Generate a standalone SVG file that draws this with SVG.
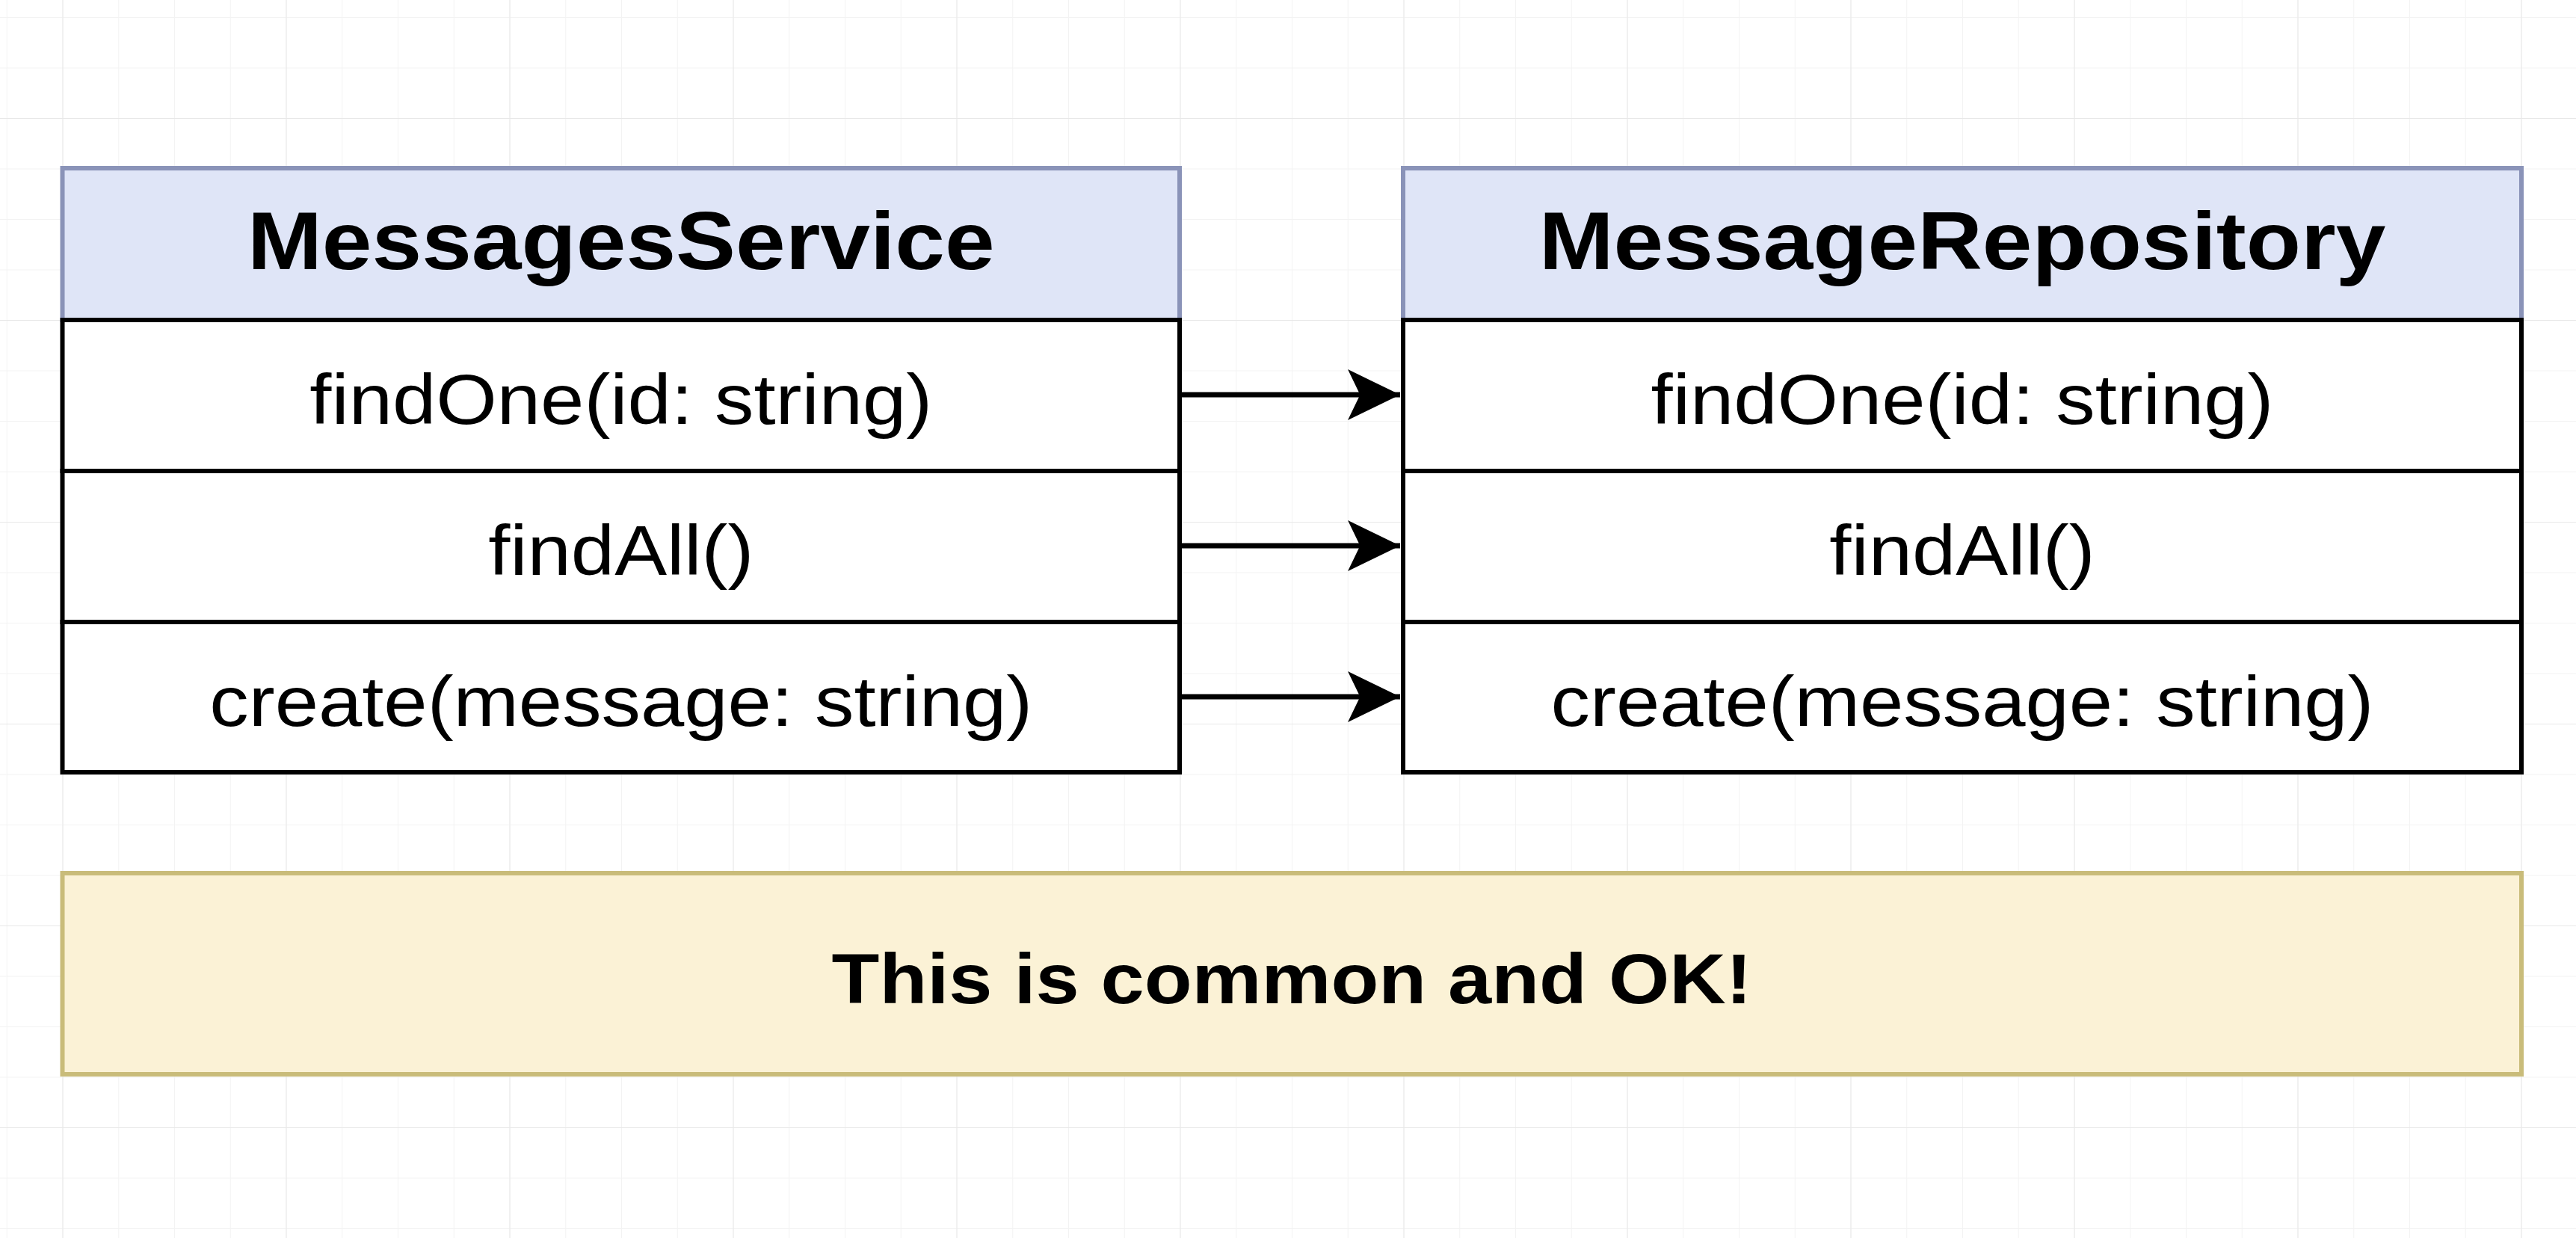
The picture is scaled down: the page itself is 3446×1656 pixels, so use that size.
<svg xmlns="http://www.w3.org/2000/svg" width="3446" height="1656" viewBox="0 0 3446 1656">
<style>
.hdr{fill:#dfe5f7;stroke:#8a93b8;stroke-width:6}
.row{fill:#ffffff;stroke:#000000;stroke-width:6}
.note{fill:#fbf2d6;stroke:#c9bc7a;stroke-width:6}
.t{font-family:"Liberation Sans",Arial,sans-serif;fill:#000;text-anchor:middle}
.b{font-weight:bold}
.h{font-size:109px}
.m{font-size:94px}
.n{font-size:95px}
.conn{stroke:#000;stroke-width:7;fill:none}
</style>
<defs>
<pattern id="gmin" patternUnits="userSpaceOnUse" x="83.5" y="23" width="74.75" height="67.5">
<rect x="-1" y="0" width="2" height="67.5" fill="#f3f3f3"/>
<rect x="0" y="-1" width="74.75" height="2" fill="#f3f3f3"/>
</pattern>
<pattern id="gmaj" patternUnits="userSpaceOnUse" x="83.5" y="158" width="299" height="270">
<rect x="-1" y="0" width="2" height="270" fill="#e8e8e8"/>
<rect x="0" y="-1" width="299" height="2" fill="#e8e8e8"/>
</pattern>
<marker id="arr" markerUnits="userSpaceOnUse" markerWidth="70" markerHeight="70" viewBox="0 0 64 62" refX="64" refY="31" orient="auto">
<path d="M0 0 L64 31 L0 62 L15 31 Z" fill="#000"/>
</marker>
</defs>
<rect width="3446" height="1656" fill="#ffffff"/>
<rect width="3446" height="1656" fill="url(#gmin)"/>
<rect width="3446" height="1656" fill="url(#gmaj)"/>

<g id="connectors">
<path class="conn" d="M1578 528 H1873" marker-end="url(#arr)"/>
<path class="conn" d="M1578 730 H1873" marker-end="url(#arr)"/>
<path class="conn" d="M1578 932 H1873" marker-end="url(#arr)"/>
</g>

<g id="messages-service">
<rect class="hdr" x="83.5" y="225" width="1494.5" height="203"/>
<rect class="row" x="83.5" y="428" width="1494.5" height="202"/>
<rect class="row" x="83.5" y="630" width="1494.5" height="202"/>
<rect class="row" x="83.5" y="832" width="1494.5" height="201"/>
<text class="t b h" transform="translate(830.8 360) scale(1.1 1)">MessagesService</text>
<text class="t m" transform="translate(830.8 567) scale(1.115 1)">findOne(id: string)</text>
<text class="t m" transform="translate(830.8 769) scale(1.115 1)">findAll()</text>
<text class="t m" transform="translate(830.8 971) scale(1.115 1)">create(message: string)</text>
</g>

<g id="message-repository">
<rect class="hdr" x="1877" y="225" width="1496" height="203"/>
<rect class="row" x="1877" y="428" width="1496" height="202"/>
<rect class="row" x="1877" y="630" width="1496" height="202"/>
<rect class="row" x="1877" y="832" width="1496" height="201"/>
<text class="t b h" transform="translate(2625 360) scale(1.1 1)">MessageRepository</text>
<text class="t m" transform="translate(2625 567) scale(1.115 1)">findOne(id: string)</text>
<text class="t m" transform="translate(2625 769) scale(1.115 1)">findAll()</text>
<text class="t m" transform="translate(2625 971) scale(1.115 1)">create(message: string)</text>
</g>

<g id="note">
<rect class="note" x="83.5" y="1168" width="3289.5" height="269"/>
<text class="t b n" transform="translate(1728 1342) scale(1.1 1)">This is common and OK!</text>
</g>
</svg>
